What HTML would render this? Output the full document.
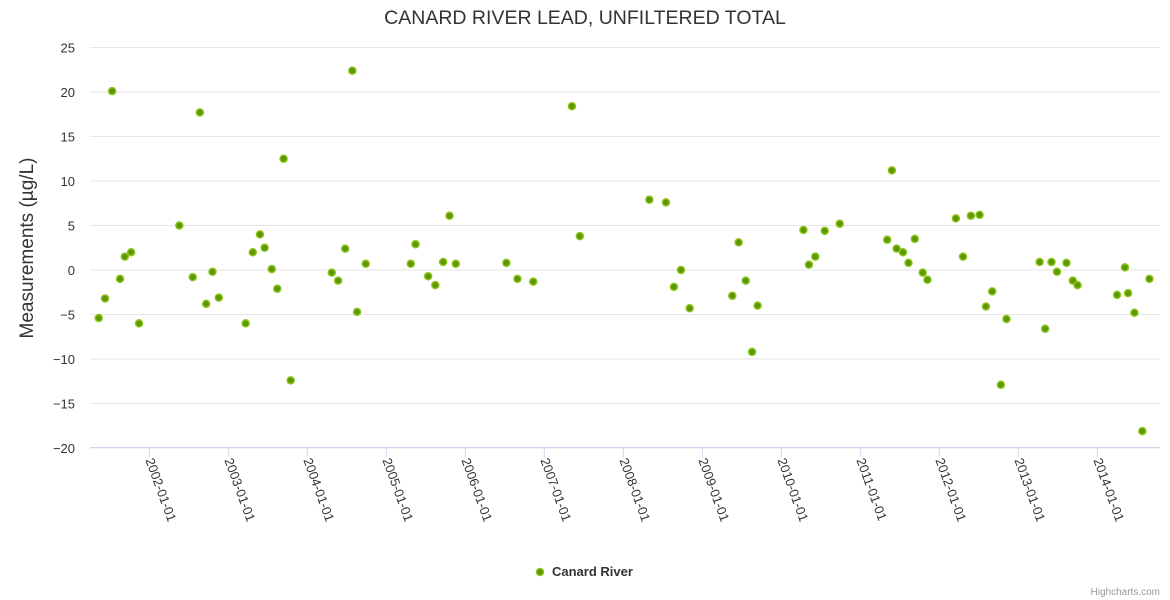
<!DOCTYPE html>
<html><head><meta charset="utf-8"><style>
html,body{margin:0;padding:0;background:#fff;}
svg{display:block;font-family:"Liberation Sans","DejaVu Sans",sans-serif;}
</style></head><body>
<svg id="chart" width="1170" height="600">
<text x="585" y="24" text-anchor="middle" font-size="19.5" fill="#333">CANARD RIVER LEAD, UNFILTERED TOTAL</text>
<text transform="translate(33,248) rotate(-90)" text-anchor="middle" font-size="19" fill="#333">Measurements (µg/L)</text>
<g id="grid"></g><g id="xaxis"></g><g id="points"></g>
<g>
<circle cx="540" cy="572" r="3.5" fill="#5a9800" stroke="#8cc21a" stroke-width="1.5"/>
<text x="552" y="576" font-size="13" font-weight="bold" fill="#333">Canard River</text>
</g>
<text x="1160" y="595" text-anchor="end" font-size="10" fill="#999">Highcharts.com</text>
</svg>
<script>
const yTicks=[25,20,15,10,5,0,-5,-10,-15,-20];
const xTickYears=[2002,2003,2004,2005,2006,2007,2008,2009,2010,2011,2012,2013,2014];
const dates=[2001.36,2001.44,2001.53,2001.63,2001.69,2001.77,2001.87,2002.38,2002.55,2002.64,2002.72,2002.80,2002.88,2003.22,2003.31,2003.40,2003.46,2003.55,2003.62,2003.70,2003.79,2004.31,2004.39,2004.48,2004.57,2004.63,2004.74,2005.31,2005.37,2005.53,2005.62,2005.72,2005.80,2005.88,2006.52,2006.66,2006.86,2007.35,2007.45,2008.33,2008.54,2008.64,2008.73,2008.84,2009.38,2009.46,2009.55,2009.63,2009.70,2010.28,2010.35,2010.43,2010.55,2010.74,2011.34,2011.40,2011.46,2011.54,2011.61,2011.69,2011.79,2011.85,2012.21,2012.30,2012.40,2012.51,2012.59,2012.67,2012.78,2012.85,2013.27,2013.34,2013.42,2013.49,2013.61,2013.69,2013.75,2014.25,2014.35,2014.39,2014.47,2014.57,2014.66];
const values=[-5.4,-3.2,20.1,-1.0,1.5,2.0,-6.0,5.0,-0.8,17.7,-3.8,-0.2,-3.1,-6.0,2.0,4.0,2.5,0.1,-2.1,12.5,-12.4,-0.3,-1.2,2.4,22.4,-4.7,0.7,0.7,2.9,-0.7,-1.7,0.9,6.1,0.7,0.8,-1.0,-1.3,18.4,3.8,7.9,7.6,-1.9,0.0,-4.3,-2.9,3.1,-1.2,-9.2,-4.0,4.5,0.6,1.5,4.4,5.2,3.4,11.2,2.4,2.0,0.8,3.5,-0.3,-1.1,5.8,1.5,6.1,6.2,-4.1,-2.4,-12.9,-5.5,0.9,-6.6,0.9,-0.2,0.8,-1.2,-1.7,-2.8,0.3,-2.6,-4.8,-18.1,-1.0];
const NS='http://www.w3.org/2000/svg';
function X(yr){return 149.3+(yr-2002)*79;}
function Y(v){return 270-v*8.9;}
function mk(t,a,p){const e=document.createElementNS(NS,t);for(const k in a)e.setAttribute(k,a[k]);p.appendChild(e);return e;}
const grid=document.getElementById('grid'),xa=document.getElementById('xaxis'),pts=document.getElementById('points');
yTicks.forEach(v=>{
  const l=mk('line',{x1:90,x2:1160,y1:Y(v),y2:Y(v),stroke:'#e6e6e6','stroke-width':1},grid);
  
  
  const t=mk('text',{x:75,y:Y(v)+5,'text-anchor':'end','font-size':13,fill:'#333'},grid);
  t.textContent=v<0?'−'+Math.abs(v):String(v);
  
  
});
mk('line',{x1:90,x2:1160,y1:447.5,y2:447.5,stroke:'#ccd6eb','stroke-width':1},xa);
xTickYears.forEach(yr=>{
  const x=X(yr);
  mk('line',{x1:x,x2:x,y1:447,y2:457,stroke:'#ccd6eb','stroke-width':1},xa);
  const t=mk('text',{transform:`translate(${x-4},${460}) rotate(70)`,'font-size':13,fill:'#333'},xa);
  t.textContent=yr+'-01-01';
  
  
});
dates.forEach((d,i)=>{
  const c=mk('circle',{cx:X(d),cy:Y(values[i]),r:3.5,fill:'#5a9800',stroke:'#8cc21a','stroke-width':1.5},pts);
  
  
});
</script>
</body></html>
